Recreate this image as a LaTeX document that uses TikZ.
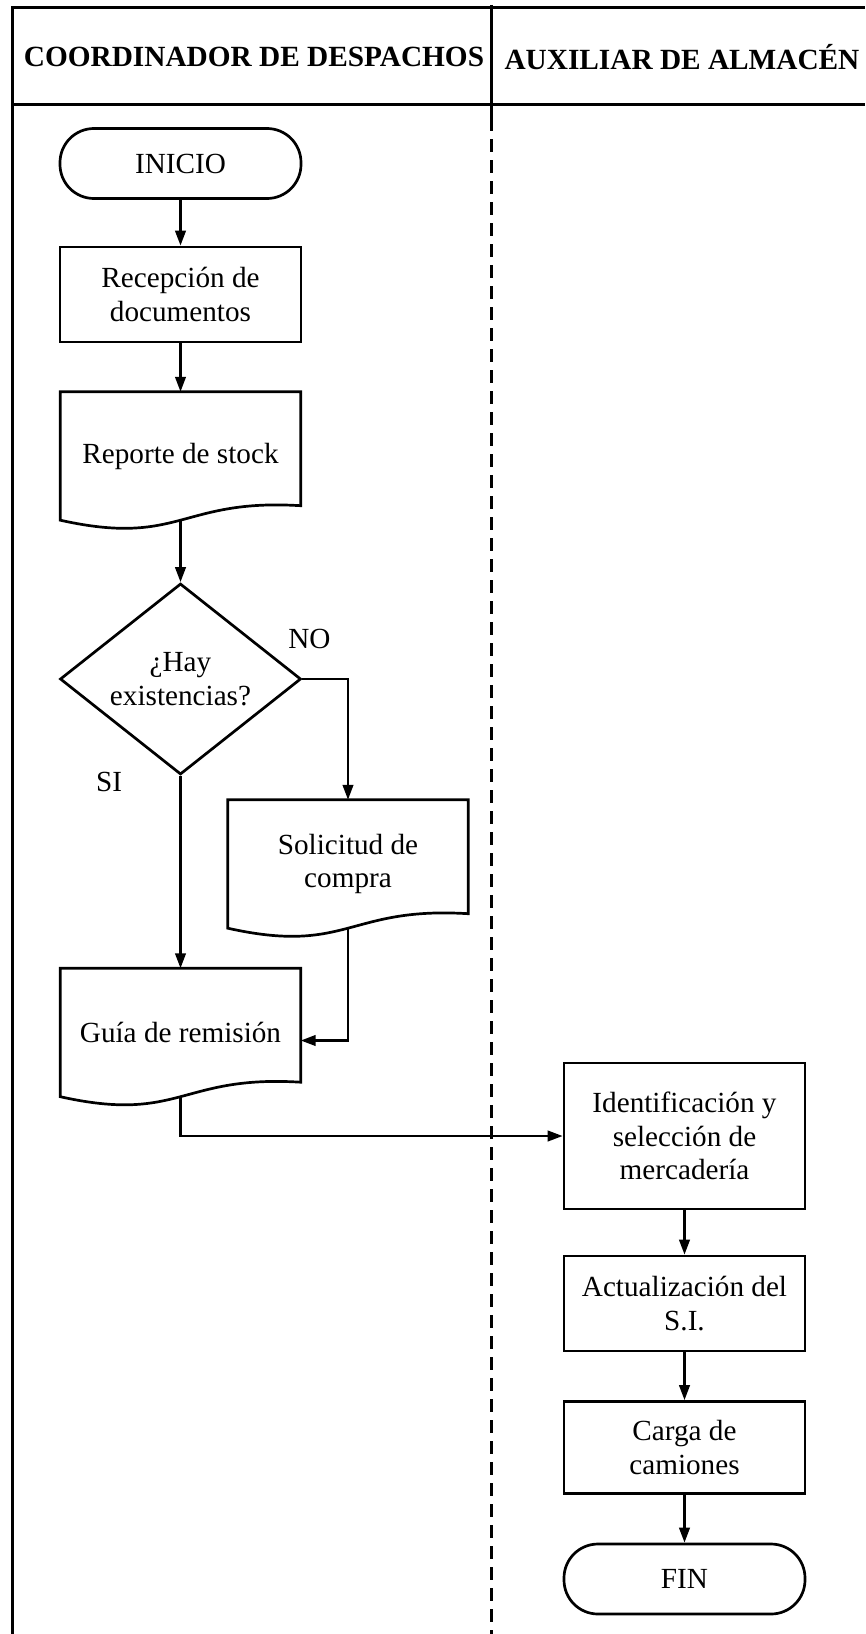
\documentclass[tikz,border=0pt]{standalone}
\usepackage{fontspec}
\setmainfont{Liberation Serif}
\usetikzlibrary{shapes.geometric,arrows.meta,calc}

% outline of a document symbol drawn around a (borderless) node
\newcommand\docoutline[1]{%
  \draw[shapeline] (#1.north west) -- (#1.north east)
    -- ($(#1.south east)+(0,-14.5)$)
    .. controls ($(#1.south)+(0,-22)$) and ($(#1.south)+(0,26.8)$) .. (#1.south west)
    -- cycle;}

\begin{document}
\begin{tikzpicture}[x=1bp,y=-1bp,
  every node/.style={font=\fontsize{29.2bp}{33.5bp}\selectfont, align=center, inner sep=0pt},
  lane/.style={line width=3bp},
  shapeline/.style={line width=2.7bp},
  procbox/.style={draw, shapeline, rectangle, minimum width=241bp},
  docbox/.style={rectangle, minimum width=240bp, minimum height=128bp},
  terminal/.style={draw, shapeline, rectangle, rounded corners=34bp, minimum width=241bp, minimum height=70bp},
  decision/.style={draw, shapeline, diamond, aspect=1.26, minimum width=241bp, minimum height=191bp},
  flow/.style={line width=2.5bp, -{Triangle[length=15bp,width=10.5bp]}},
  title/.style={font=\fontsize{29.3bp}{33.5bp}\selectfont\bfseries},
]
\useasboundingbox (0,0) rectangle (865,1634);

% swimlane frame
\draw[lane] (12.5,1634) -- (12.5,7.5) -- (865,7.5);
\draw[lane] (12.5,104.5) -- (865,104.5);
\draw[lane] (491.5,5) -- (491.5,118);
\draw[lane, line width=2.7bp, dash pattern=on 13bp off 8bp] (491.5,118) -- (491.5,1634);

% lane titles
\node[title] (h1) at (254,57) {COORDINADOR DE DESPACHOS};
\node[title] (h2) at (682,57) {AUXILIAR DE ALMACÉN};

% left lane
\node[terminal] (ini) at (180.5,163.5) {INICIO};
\node[procbox, minimum height=95bp] (rec) at (180.5,294.5) {Recepción de\\documentos};
\node[docbox] (rep) at (180.5,456) {Reporte de stock};
\node[decision] (dec) at (180.5,679) {¿Hay\\existencias?};
\node (no) at (309.5,638.5) {NO};
\node (si) at (109,782) {SI};
\node[docbox] (sol) at (348,864) {Solicitud de\\compra};
\node[docbox] (guia) at (180.5,1032.5) {Guía de remisión};

% right lane
\node[procbox, minimum height=146bp] (ide) at (684.5,1136) {Identificación y\\selección de\\mercadería};
\node[procbox, minimum height=95bp] (act) at (684.5,1303.5) {Actualización del\\S.I.};
\node[procbox, minimum height=92bp] (car) at (684.5,1447.5) {Carga de\\camiones};
\node[terminal] (fin) at (684.5,1579) {FIN};

\foreach \d in {rep,sol,guia}{\docoutline{\d}}

% flow
\draw[flow] (ini) -- (rec);
\draw[flow] (rec) -- (rep);
\draw[flow] (rep.south) -- (dec.north);
\draw[flow] (dec.east) -| (sol.north);
\draw[flow] (dec.south) -- (guia.north);
\draw[flow] (sol.south) |- ([yshift=-8bp]guia.east);
\draw[flow] (guia.south) |- (ide.west);
\draw[flow] (ide) -- (act);
\draw[flow] (act) -- (car);
\draw[flow] (car) -- (fin);
\end{tikzpicture}
\end{document}
